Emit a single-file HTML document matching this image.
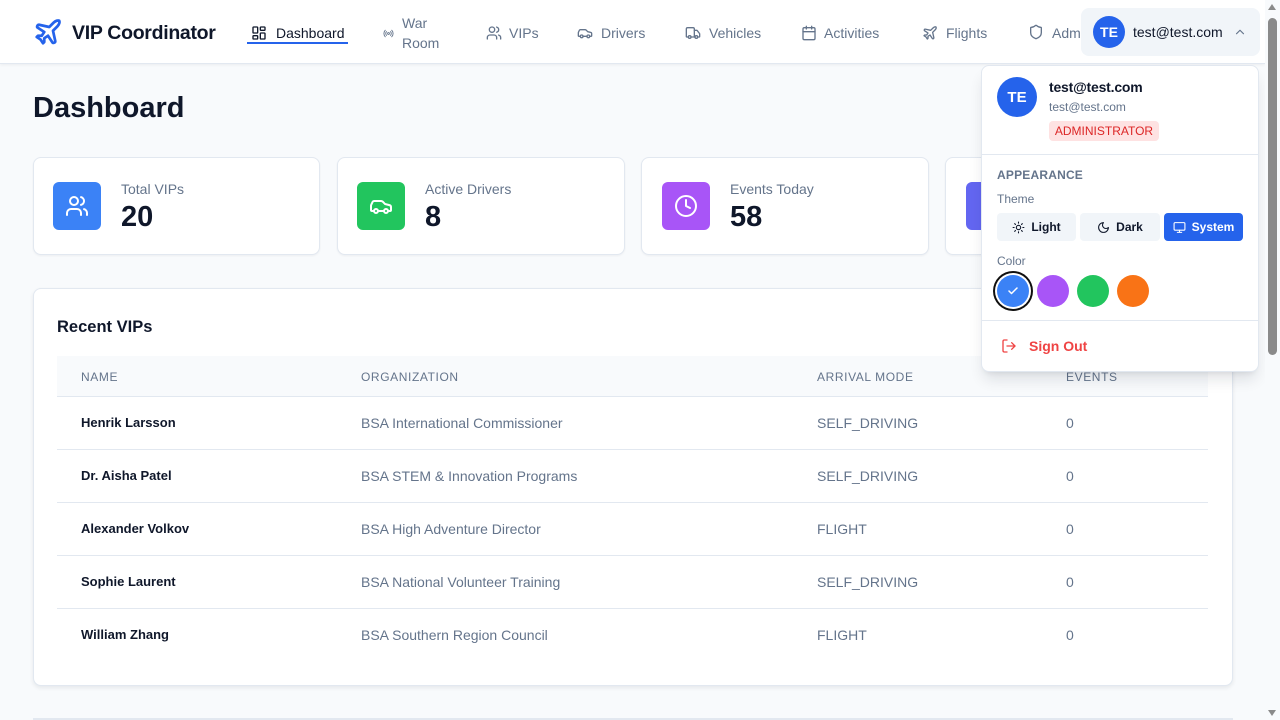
<!DOCTYPE html>
<html><head><meta charset="utf-8">
<style>
*{box-sizing:border-box;margin:0;padding:0}
html,body{width:1280px;height:720px;overflow:hidden;background:#f8fafc;font-family:"Liberation Sans",sans-serif;color:#0f172a}
#root{position:relative;width:1280px;height:720px;overflow:hidden}
.abs{position:absolute}
svg{display:block}
.hdr{position:absolute;left:0;top:0;width:1265px;height:64px;background:#fff;border-bottom:1px solid #e2e8f0;box-shadow:0 1px 3px rgba(15,23,42,0.06)}
.nav{position:absolute;font-size:14px;color:#64748b;line-height:20px;white-space:nowrap}
.ico{position:absolute}
.card{position:absolute;background:#fff;border:1px solid #e2e8f0;border-radius:8px;box-shadow:0 1px 2px rgba(15,23,42,0.05)}
.sq{position:absolute;width:48px;height:48px;border-radius:6px;display:flex;align-items:center;justify-content:center}
.lbl{position:absolute;font-size:14px;color:#64748b;line-height:16px}
.val{position:absolute;font-size:29px;font-weight:bold;color:#0f172a;line-height:32px}
.th{position:absolute;font-size:12px;color:#64748b;letter-spacing:0.6px;line-height:14px;top:370px}
.td{position:absolute;font-size:14px;color:#64748b;line-height:16px}
.tn{position:absolute;font-size:13px;font-weight:bold;color:#0f172a;line-height:16px}
.sep{position:absolute;left:57px;width:1151px;height:1px;background:#e2e8f0}
.btn{position:absolute;top:213px;height:28px;border-radius:4px;background:#f1f5f9;font-size:12px;font-weight:bold;color:#0f172a;display:flex;align-items:center;justify-content:center;gap:6px}
.dot{position:absolute;top:275px;width:32px;height:32px;border-radius:50%}
</style></head><body><div id="root">

<div class="hdr"></div>
<!-- logo -->
<svg class="ico" style="left:33px;top:17px" width="30" height="30" viewBox="0 0 24 24" fill="none" stroke="#2563eb" stroke-width="2.2" stroke-linecap="round" stroke-linejoin="round"><path d="M17.8 19.2 16 11l3.5-3.5C21 6 21.5 4 21 3c-1-.5-3 0-4.5 1.5L13 8 4.8 6.2c-.5-.1-.9.1-1.1.5l-.3.5c-.2.5-.1 1 .3 1.3L9 12l-2 3H4l-1 1 3 2 2 3 1-1v-3l3-2 3.5 5.3c.3.4.8.5 1.3.3l.5-.2c.4-.3.6-.7.5-1.2z"/></svg>
<div class="abs" style="left:72px;top:21px;font-size:19.5px;font-weight:bold;letter-spacing:-0.3px;line-height:24px;color:#0f172a">VIP Coordinator</div>

<!-- nav -->
<svg class="ico" style="left:251px;top:25px" width="16" height="16" viewBox="0 0 24 24" fill="none" stroke="#0f172a" stroke-width="2" stroke-linecap="round" stroke-linejoin="round"><rect x="3" y="3" width="7" height="9" rx="1"/><rect x="14" y="3" width="7" height="5" rx="1"/><rect x="14" y="12" width="7" height="9" rx="1"/><rect x="3" y="16" width="7" height="5" rx="1"/></svg>
<div class="nav" style="left:276px;top:23px;color:#0f172a">Dashboard</div>
<div class="abs" style="left:247px;top:42px;width:101px;height:2px;background:#2563eb"></div>

<svg class="ico" style="left:383px;top:28px" width="11" height="11" viewBox="0 0 24 24" fill="none" stroke="#64748b" stroke-width="2" stroke-linecap="round"><circle cx="12" cy="12" r="2"/><path d="M16.24 7.76a6 6 0 0 1 0 8.49"/><path d="M4.93 19.07a10 10 0 0 1 0-14.14"/><path d="M7.76 16.24a6 6 0 0 1 0-8.49"/><path d="M19.07 4.93a10 10 0 0 1 0 14.14"/></svg>
<div class="nav" style="left:402px;top:13px">War<br>Room</div>

<svg class="ico" style="left:486px;top:25px" width="16" height="16" viewBox="0 0 24 24" fill="none" stroke="#64748b" stroke-width="2" stroke-linecap="round" stroke-linejoin="round"><path d="M16 21v-2a4 4 0 0 0-4-4H6a4 4 0 0 0-4 4v2"/><circle cx="9" cy="7" r="4"/><path d="M22 21v-2a4 4 0 0 0-3-3.870"/><path d="M16 3.13a4 4 0 0 1 0 7.75"/></svg>
<div class="nav" style="left:509px;top:23px">VIPs</div>

<svg class="ico" style="left:577px;top:25px" width="16" height="16" viewBox="0 0 24 24" fill="none" stroke="#64748b" stroke-width="2" stroke-linecap="round" stroke-linejoin="round"><path d="M19 17h2c.6 0 1-.4 1-1v-3c0-.9-.7-1.7-1.5-1.9C18.7 10.6 16 10 16 10s-1.3-1.4-2.2-2.3c-.5-.4-1.1-.7-1.8-.7H5c-.6 0-1.1.4-1.4.9l-1.4 2.9A3.7 3.7 0 0 0 2 12v4c0 .6.4 1 1 1h2"/><circle cx="7" cy="17" r="2"/><path d="M9 17h6"/><circle cx="17" cy="17" r="2"/></svg>
<div class="nav" style="left:601px;top:23px">Drivers</div>

<svg class="ico" style="left:685px;top:25px" width="16" height="16" viewBox="0 0 24 24" fill="none" stroke="#64748b" stroke-width="2" stroke-linecap="round" stroke-linejoin="round"><path d="M14 18V6a2 2 0 0 0-2-2H4a2 2 0 0 0-2 2v11a1 1 0 0 0 1 1h2"/><path d="M15 18H9"/><path d="M19 18h2a1 1 0 0 0 1-1v-3.65a1 1 0 0 0-.22-.624l-3.48-4.35A1 1 0 0 0 17.52 8H14"/><circle cx="17" cy="18" r="2"/><circle cx="7" cy="18" r="2"/></svg>
<div class="nav" style="left:709px;top:23px">Vehicles</div>

<svg class="ico" style="left:801px;top:25px" width="16" height="16" viewBox="0 0 24 24" fill="none" stroke="#64748b" stroke-width="2" stroke-linecap="round" stroke-linejoin="round"><rect x="3" y="4" width="18" height="18" rx="2"/><path d="M16 2v4M8 2v4M3 10h18"/></svg>
<div class="nav" style="left:824px;top:23px">Activities</div>

<svg class="ico" style="left:922px;top:25px" width="16" height="16" viewBox="0 0 24 24" fill="none" stroke="#64748b" stroke-width="2" stroke-linecap="round" stroke-linejoin="round"><path d="M17.8 19.2 16 11l3.5-3.5C21 6 21.5 4 21 3c-1-.5-3 0-4.5 1.5L13 8 4.8 6.2c-.5-.1-.9.1-1.1.5l-.3.5c-.2.5-.1 1 .3 1.3L9 12l-2 3H4l-1 1 3 2 2 3 1-1v-3l3-2 3.5 5.3c.3.4.8.5 1.3.3l.5-.2c.4-.3.6-.7.5-1.2z"/></svg>
<div class="nav" style="left:946px;top:23px">Flights</div>

<svg class="ico" style="left:1028px;top:24px" width="16" height="16" viewBox="0 0 24 24" fill="none" stroke="#64748b" stroke-width="2" stroke-linecap="round" stroke-linejoin="round"><path d="M20 13c0 5-3.5 7.5-7.66 8.95a1 1 0 0 1-.67-.01C7.5 20.5 4 18 4 13V6a1 1 0 0 1 1-1c2 0 4.5-1.2 6.24-2.72a1.17 1.17 0 0 1 1.52 0C14.51 3.81 17 5 19 5a1 1 0 0 1 1 1z"/></svg>
<div class="nav" style="left:1052px;top:23px">Admin</div>

<!-- user button -->
<div class="abs" style="left:1081px;top:8px;width:179px;height:48px;background:#f1f5f9;border-radius:8px"></div>
<div class="abs" style="left:1093px;top:16px;width:32px;height:32px;border-radius:50%;background:#2563eb;color:#fff;font-size:14px;font-weight:bold;display:flex;align-items:center;justify-content:center">TE</div>
<div class="abs" style="left:1133px;top:24px;font-size:14px;line-height:16px;color:#0f172a">test@test.com</div>
<svg class="ico" style="left:1233px;top:25px" width="14" height="14" viewBox="0 0 24 24" fill="none" stroke="#64748b" stroke-width="2" stroke-linecap="round" stroke-linejoin="round"><path d="m18 15-6-6-6 6"/></svg>

<!-- title -->
<div class="abs" style="left:33px;top:91px;font-size:29px;font-weight:bold;line-height:34px;color:#0f172a">Dashboard</div>

<!-- stat cards -->
<div class="card" style="left:33px;top:157px;width:287px;height:98px"></div>
<div class="sq" style="left:53px;top:182px;background:#3b82f6"><svg width="24" height="24" viewBox="0 0 24 24" fill="none" stroke="#fff" stroke-width="2" stroke-linecap="round" stroke-linejoin="round"><path d="M16 21v-2a4 4 0 0 0-4-4H6a4 4 0 0 0-4 4v2"/><circle cx="9" cy="7" r="4"/><path d="M22 21v-2a4 4 0 0 0-3-3.87"/><path d="M16 3.13a4 4 0 0 1 0 7.75"/></svg></div>
<div class="lbl" style="left:121px;top:181px">Total VIPs</div>
<div class="val" style="left:121px;top:201px">20</div>

<div class="card" style="left:337px;top:157px;width:288px;height:98px"></div>
<div class="sq" style="left:357px;top:182px;background:#22c55e"><svg width="24" height="24" viewBox="0 0 24 24" fill="none" stroke="#fff" stroke-width="2" stroke-linecap="round" stroke-linejoin="round"><path d="M19 17h2c.6 0 1-.4 1-1v-3c0-.9-.7-1.7-1.5-1.9C18.7 10.6 16 10 16 10s-1.3-1.4-2.2-2.3c-.5-.4-1.1-.7-1.8-.7H5c-.6 0-1.1.4-1.4.9l-1.4 2.9A3.7 3.7 0 0 0 2 12v4c0 .6.4 1 1 1h2"/><circle cx="7" cy="17" r="2"/><path d="M9 17h6"/><circle cx="17" cy="17" r="2"/></svg></div>
<div class="lbl" style="left:425px;top:181px">Active Drivers</div>
<div class="val" style="left:425px;top:201px">8</div>

<div class="card" style="left:641px;top:157px;width:288px;height:98px"></div>
<div class="sq" style="left:662px;top:182px;background:#a855f7"><svg width="24" height="24" viewBox="0 0 24 24" fill="none" stroke="#fff" stroke-width="2" stroke-linecap="round" stroke-linejoin="round"><circle cx="12" cy="12" r="10"/><polyline points="12 6 12 12 16 14"/></svg></div>
<div class="lbl" style="left:730px;top:181px">Events Today</div>
<div class="val" style="left:730px;top:201px">58</div>

<div class="card" style="left:945px;top:157px;width:288px;height:98px"></div>
<div class="sq" style="left:966px;top:182px;background:#6366f1"></div>

<!-- recent VIPs -->
<div class="card" style="left:33px;top:288px;width:1200px;height:398px;box-shadow:0 2px 4px rgba(15,23,42,0.08)"></div>
<div class="abs" style="left:57px;top:317px;font-size:16.5px;font-weight:bold;line-height:20px;color:#0f172a">Recent VIPs</div>
<div class="abs" style="left:57px;top:356px;width:1151px;height:40px;background:#f8fafc"></div>
<div class="th" style="left:81px">NAME</div>
<div class="th" style="left:361px">ORGANIZATION</div>
<div class="th" style="left:817px">ARRIVAL MODE</div>
<div class="th" style="left:1066px">EVENTS</div>
<div class="sep" style="top:396px"></div>
<div class="sep" style="top:449px"></div>
<div class="sep" style="top:502px"></div>
<div class="sep" style="top:555px"></div>
<div class="sep" style="top:608px"></div>

<div class="tn" style="left:81px;top:415px">Henrik Larsson</div>
<div class="td" style="left:361px;top:415px">BSA International Commissioner</div>
<div class="td" style="left:817px;top:415px">SELF_DRIVING</div>
<div class="td" style="left:1066px;top:415px">0</div>

<div class="tn" style="left:81px;top:468px">Dr. Aisha Patel</div>
<div class="td" style="left:361px;top:468px">BSA STEM &amp; Innovation Programs</div>
<div class="td" style="left:817px;top:468px">SELF_DRIVING</div>
<div class="td" style="left:1066px;top:468px">0</div>

<div class="tn" style="left:81px;top:521px">Alexander Volkov</div>
<div class="td" style="left:361px;top:521px">BSA High Adventure Director</div>
<div class="td" style="left:817px;top:521px">FLIGHT</div>
<div class="td" style="left:1066px;top:521px">0</div>

<div class="tn" style="left:81px;top:574px">Sophie Laurent</div>
<div class="td" style="left:361px;top:574px">BSA National Volunteer Training</div>
<div class="td" style="left:817px;top:574px">SELF_DRIVING</div>
<div class="td" style="left:1066px;top:574px">0</div>

<div class="tn" style="left:81px;top:627px">William Zhang</div>
<div class="td" style="left:361px;top:627px">BSA Southern Region Council</div>
<div class="td" style="left:817px;top:627px">FLIGHT</div>
<div class="td" style="left:1066px;top:627px">0</div>

<div class="abs" style="left:33px;top:718px;width:1200px;height:2px;background:#e2e8f0"></div>

<!-- dropdown -->
<div class="abs" style="left:981px;top:65px;width:278px;height:307px;background:#fff;border:1px solid #e2e8f0;border-radius:8px;box-shadow:0 10px 15px -3px rgba(15,23,42,0.12),0 4px 6px -4px rgba(15,23,42,0.1)"></div>
<div class="abs" style="left:997px;top:77px;width:40px;height:40px;border-radius:50%;background:#2563eb;color:#fff;font-size:15px;font-weight:bold;display:flex;align-items:center;justify-content:center">TE</div>
<div class="abs" style="left:1049px;top:79px;font-size:14px;font-weight:bold;line-height:16px;color:#0f172a;letter-spacing:-0.2px">test@test.com</div>
<div class="abs" style="left:1049px;top:100px;font-size:12px;line-height:14px;color:#64748b">test@test.com</div>
<div class="abs" style="left:1049px;top:121px;width:110px;height:20px;border-radius:4px;background:#fee2e2;color:#dc2626;font-size:12px;line-height:20px;text-align:center">ADMINISTRATOR</div>
<div class="abs" style="left:982px;top:154px;width:276px;height:1px;background:#e2e8f0"></div>
<div class="abs" style="left:997px;top:168px;font-size:12px;font-weight:bold;line-height:14px;color:#64748b;letter-spacing:0.2px">APPEARANCE</div>
<div class="abs" style="left:997px;top:192px;font-size:12px;line-height:14px;color:#64748b">Theme</div>
<div class="btn" style="left:997px;width:79px"><svg width="13" height="13" viewBox="0 0 24 24" fill="none" stroke="#0f172a" stroke-width="2" stroke-linecap="round"><circle cx="12" cy="12" r="4"/><path d="M12 2v2M12 20v2M4.930 4.93l1.41 1.41M17.66 17.66l1.41 1.41M2 12h2M20 12h2M6.34 17.66l-1.41 1.41M19.07 4.93l-1.41 1.41"/></svg>Light</div>
<div class="btn" style="left:1080px;width:80px"><svg width="13" height="13" viewBox="0 0 24 24" fill="none" stroke="#0f172a" stroke-width="2" stroke-linecap="round" stroke-linejoin="round"><path d="M12 3a6 6 0 0 0 9 9 9 9 0 1 1-9-9Z"/></svg>Dark</div>
<div class="btn" style="left:1164px;width:79px;background:#2563eb;color:#fff"><svg width="13" height="13" viewBox="0 0 24 24" fill="none" stroke="#fff" stroke-width="2" stroke-linecap="round" stroke-linejoin="round"><rect x="2" y="3" width="20" height="14" rx="2"/><path d="M8 21h8M12 17v4"/></svg>System</div>
<div class="abs" style="left:997px;top:254px;font-size:12px;line-height:14px;color:#64748b">Color</div>
<div class="dot" style="left:997px;background:#3b82f6;box-shadow:0 0 0 2px #fff,0 0 0 4px #0f0f0f;display:flex;align-items:center;justify-content:center"><svg width="12" height="12" viewBox="0 0 24 24" fill="none" stroke="#fff" stroke-width="3" stroke-linecap="round" stroke-linejoin="round"><path d="M20 6 9 17l-5-5"/></svg></div>
<div class="dot" style="left:1037px;background:#a855f7"></div>
<div class="dot" style="left:1077px;background:#22c55e"></div>
<div class="dot" style="left:1117px;background:#f97316"></div>
<div class="abs" style="left:982px;top:320px;width:276px;height:1px;background:#e2e8f0"></div>
<svg class="ico" style="left:1001px;top:338px" width="16" height="16" viewBox="0 0 24 24" fill="none" stroke="#ef4444" stroke-width="2" stroke-linecap="round" stroke-linejoin="round"><path d="M9 21H5a2 2 0 0 1-2-2V5a2 2 0 0 1 2-2h4"/><polyline points="16 17 21 12 16 7"/><path d="M21 12H9"/></svg>
<div class="abs" style="left:1029px;top:338px;font-size:14px;font-weight:bold;line-height:16px;color:#ef4444">Sign Out</div>

<!-- scrollbar -->
<div class="abs" style="left:1265px;top:0;width:15px;height:720px;background:#f8fafc"></div>
<div class="abs" style="left:1268px;top:18px;width:9px;height:337px;border-radius:5px;background:#8a8a8a"></div>
<div class="abs" style="left:1268px;top:4px;width:0;height:0;border-left:4.5px solid transparent;border-right:4.5px solid transparent;border-bottom:6px solid #8a8a8a"></div>
<div class="abs" style="left:1268px;top:710px;width:0;height:0;border-left:4.5px solid transparent;border-right:4.5px solid transparent;border-top:6px solid #8a8a8a"></div>
</div></body></html>
